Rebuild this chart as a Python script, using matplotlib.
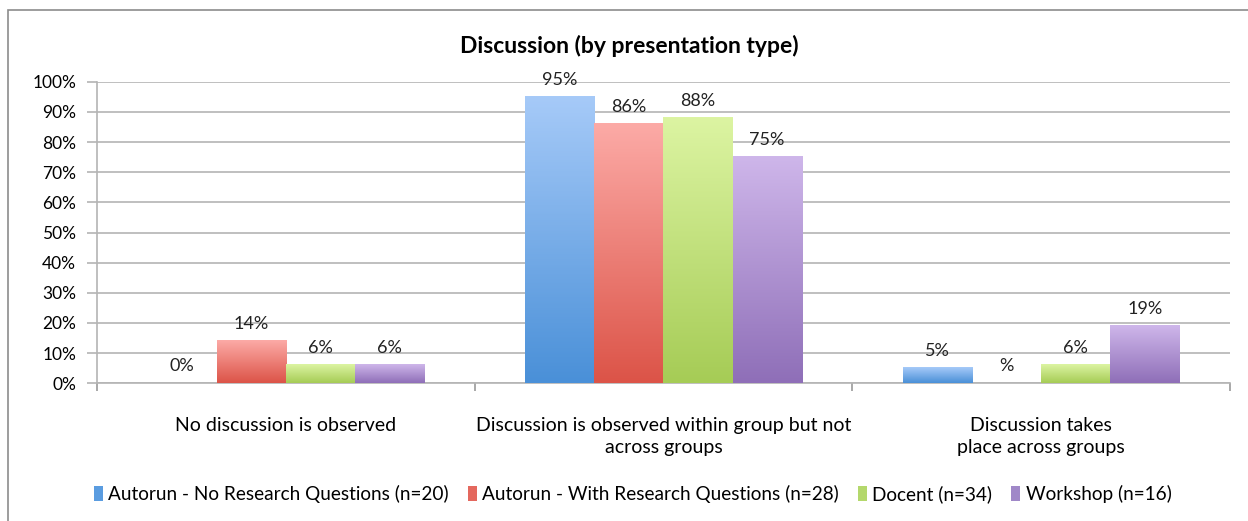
import matplotlib.pyplot as plt
from matplotlib import colors
from matplotlib.patches import Rectangle, Patch
import numpy as np

plt.rcParams['font.family'] = ['Lato', 'DejaVu Sans']

categories = ["No discussion is observed",
              "Discussion is observed within group but not\nacross groups",
              "Discussion takes\nplace across groups"]
series = ["Autorun - No Research Questions (n=20)",
          "Autorun - With Research Questions (n=28)",
          "Docent (n=34)",
          "Workshop (n=16)"]
values = [[0, 95, 5],
          [14, 86, 0],
          [6, 88, 6],
          [6, 75, 19]]
bar_labels = [["0%", "95%", "5%"],
              ["14%", "86%", "%"],
              ["6%", "88%", "6%"],
              ["6%", "75%", "19%"]]
yticks = [0, 10, 20, 30, 40, 50, 60, 70, 80, 90, 100]

# (top colour, bottom colour) for the gradient fill
grad_colors = [("#a6caf8", "#4a90d8"),
               ("#fcaaa6", "#dc5448"),
               ("#dcf4a2", "#a6cc56"),
               ("#ceb6ea", "#8f6fb8")]
legend_colors = ["#5a9ce0", "#e4685e", "#b4d86c", "#a088c8"]

fig = plt.figure(figsize=(12.48, 5.21), dpi=100)
ax = fig.add_axes([97/1248, 1 - 383.3/521, (1230-97)/1248, (383.3-81.7)/521])

# Outer frame of the chart
fig.patches.append(Rectangle((8/1248, -0.05), 1.1, (521-10)/521 + 0.05,
                             transform=fig.transFigure, fill=False,
                             edgecolor="#8c8c8c", linewidth=1.2))

x = np.arange(len(categories))
width = 0.183
offsets = (np.arange(len(series)) - 1.5) * width

ax.set_xlim(-0.5, len(categories) - 0.5)
ax.set_ylim(0, 100)

for i, name in enumerate(series):
    bars = ax.bar(x + offsets[i], values[i], width, color="none", zorder=3)
    cmap = colors.LinearSegmentedColormap.from_list("g%d" % i, [grad_colors[i][1], grad_colors[i][0]])
    for bar, lab in zip(bars, bar_labels[i]):
        x0, h = bar.get_x(), bar.get_height()
        if h > 0:
            grad = np.linspace(0, 1, 100).reshape(-1, 1)
            ax.imshow(grad, extent=(x0, x0 + width, 0, h), origin="lower",
                      cmap=cmap, aspect="auto", zorder=3)
        ax.text(x0 + width / 2, h + 3.0, lab, ha="center", va="bottom",
                fontsize=13, color="#222222", zorder=4)

ax.set_xlim(-0.5, len(categories) - 0.5)
ax.set_ylim(0, 100)

# Axes styling
ax.set_yticks(yticks)
ax.set_yticklabels([f"{t}%" for t in yticks], fontsize=12.5)
ax.yaxis.grid(True, color="#b4b4b4", linewidth=1.2, zorder=0)
ax.set_axisbelow(True)
ax.tick_params(axis="y", length=7, color="#b4b4b4", width=1.2, pad=8)
ax.set_xticks(np.arange(-0.5, len(categories)), minor=False)
ax.set_xticklabels([])
ax.set_xticks(x, minor=True)
ax.set_xticklabels(categories, minor=True, fontsize=14, linespacing=1.35)
ax.tick_params(axis="x", which="major", length=6, color="#999999", width=1.2)
ax.tick_params(axis="x", which="minor", length=0, pad=24)
for s in ["top", "right"]:
    ax.spines[s].set_visible(False)
for s in ["left", "bottom"]:
    ax.spines[s].set_color("#b4b4b4")
    ax.spines[s].set_linewidth(1.2)

ax.set_title("Discussion (by presentation type)", fontsize=16.5, fontweight="bold",
             x=0.47, pad=21)

handles = [Patch(facecolor=c, edgecolor="none") for c in legend_colors]
fig.legend(handles, series, loc="center", bbox_to_anchor=(0.507, 1 - 494/521),
           ncol=4, frameon=False, fontsize=13.7, handlelength=0.45, handleheight=0.9,
           handletextpad=0.3, columnspacing=1.0)

fig.savefig("out.png", dpi=100)
